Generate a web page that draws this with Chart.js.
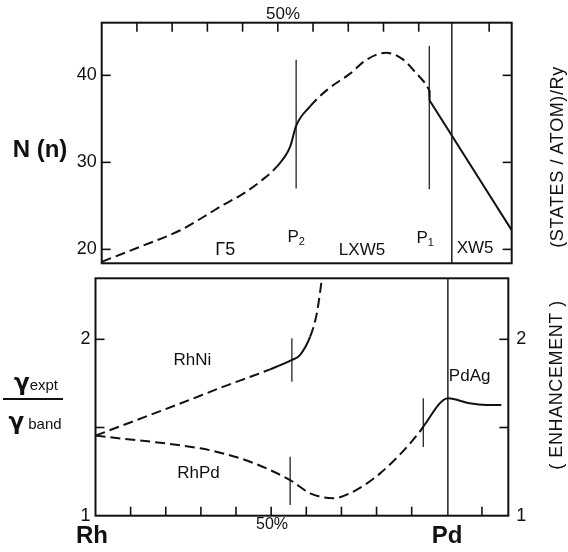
<!DOCTYPE html>
<html lang="en">
<head>
<meta charset="UTF-8">
<title>N(n) and enhancement, Rh-Pd</title>
<script src="https://cdn.jsdelivr.net/npm/chart.js"></script>
<style>
  body { margin: 0; background: #fff; }
  #wrap { position: relative; width: 568px; height: 552px; font-family: "Liberation Sans", Arial, sans-serif; color: #111; }
  canvas { position: absolute; left: 0; top: 0; }
  .t { position: absolute; white-space: nowrap; transform: translate(-50%, -50%); line-height: 1; }
  .rot { transform: translate(-50%, -50%) rotate(-90deg); letter-spacing: 0.6px; }
  .big { font-weight: bold; font-size: 24px; }
  .g { font-weight: bold; font-size: 23px; font-family: "DejaVu Sans", sans-serif; }
</style>
</head>
<body>
<div id="wrap">
  <canvas id="dos" width="568" height="552"></canvas>
  <canvas id="enh" width="568" height="552"></canvas>

  <div class="t" style="left:283px; top:13px; font-size:17px;">50%</div>
  <div class="t big" style="left:40px; top:149px; font-size:24px;">N (n)</div>
  <div class="t rot" style="left:557px; top:157px; font-size:18px;">(STATES / ATOM)/Ry</div>

  <div class="t" style="left:36px; top:382px;"><span class="g">γ</span><span style="font-size:15px;">expt</span></div>
  <div style="position:absolute; left:3px; top:398px; width:60px; height:2px; background:#111;"></div>
  <div class="t" style="left:35px; top:421px;"><span class="g">γ</span><span style="font-size:15px;"> band</span></div>
  <div class="t rot" style="left:556px; top:385px; font-size:18px;">( ENHANCEMENT )</div>

  <div class="t big" style="left:92px; top:535px;">Rh</div>
  <div class="t" style="left:272px; top:524px; font-size:16px;">50%</div>
  <div class="t big" style="left:447px; top:535px;">Pd</div>
</div>

<script>
// composition axis, % Pd (Rh = 0, Pd = 100, beyond is PdAg)
const xTicks = [10, 20, 30, 40, 50, 60, 70, 80, 90, 110];

// upper panel: density of states N(n)
const dosX = [0, 10.9, 22.3, 30.8, 33.6, 40.2, 45, 49.7, 53.5, 55.2, 59.1, 63.9, 70.5, 75.2, 80.8, 85.6, 89.4, 91.8, 93.0];
const dosY = [18.57, 20.3, 22.2, 24.2, 24.9, 26.4, 27.8, 29.5, 31.8, 34.2, 36.4, 38.3, 40.2, 41.8, 42.6, 41.8, 40.2, 39.1, 38.3];
const dosSolid = [[51.5, 58.3]];
// straight solid part after P1
const dosTailX = [93.0, 93.1, 116.4];
const dosTailY = [38.3, 37.1, 22.2];
const dosTicks = [20, 30, 40];
const dosMarkX = [55.2, 93.0];
const dosMarkLo = [27.0, 26.9];
const dosMarkHi = [41.8, 43.4];
const dosEdgeX = 99.4;

// lower panel: gamma expt / gamma band
const rhniX = [0, 29.8, 35.5, 49.7, 55.9, 58.2, 61.1, 63.0, 64.4, 65.0];
const rhniY = [1.454, 1.68, 1.725, 1.83, 1.883, 1.911, 2.015, 2.147, 2.336, 2.42];
const rhniSolid = [[52.6, 61.6]];
const rhpdX = [0, 29.8, 35.5, 44, 55.4, 61.1, 67.7, 72.4, 81, 92.3, 93.3, 100.4, 106.5, 111.3, 115.5];
const rhpdY = [1.454, 1.382, 1.357, 1.306, 1.202, 1.127, 1.099, 1.127, 1.24, 1.476, 1.505, 1.666, 1.637, 1.628, 1.628];
const rhpdSolid = [[51.6, 58.2], [93.3, 120]];
const enhTicks = [1.5, 2];
const enhLabels = [1, 2];
const enhMarkX = [55.9, 55.4, 93.3];
const enhMarkLo = [1.76, 1.06, 1.39];
const enhMarkHi = [2.006, 1.334, 1.666];
const enhEdgeX = 100.3;

const ink = '#111';
const dash = [10, 5];

function pts(xs, ys) { return xs.map((x, i) => ({ x: x, y: ys[i] })); }

function curve(xs, ys, solid) {
  return {
    data: pts(xs, ys),
    borderColor: ink, borderWidth: 2, pointRadius: 0,
    cubicInterpolationMode: 'monotone', borderDash: dash,
    segment: {
      borderDash: c => {
        const m = (c.p0.parsed.x + c.p1.parsed.x) / 2;
        return solid.some(r => m >= r[0] && m <= r[1]) ? [] : dash;
      }
    }
  };
}

function straight(xs, ys) {
  return { data: pts(xs, ys), borderColor: ink, borderWidth: 2, pointRadius: 0, tension: 0 };
}

function marks(xs, lo, hi, w) {
  return xs.map((x, i) => ({
    data: [{ x: x, y: lo[i] }, { x: x, y: hi[i] }],
    borderColor: ink, borderWidth: w || 1.2, pointRadius: 0
  }));
}

// frame, inward ticks, tick labels and notes
const framePlugin = {
  id: 'frame',
  afterDatasetsDraw(chart, args, o) {
    const { ctx, chartArea: a, scales: { x, y } } = chart;
    const seg = (x0, y0, x1, y1) => { ctx.beginPath(); ctx.moveTo(x0, y0); ctx.lineTo(x1, y1); ctx.stroke(); };
    ctx.save();
    ctx.strokeStyle = ink;
    ctx.lineWidth = 2;
    ctx.strokeRect(a.left, a.top, a.right - a.left, a.bottom - a.top);
    ctx.lineWidth = 1.6;
    o.xTicks.forEach(v => {
      const p = x.getPixelForValue(v);
      if (o.xTop) seg(p, a.top, p, a.top + 9); else seg(p, a.bottom, p, a.bottom - 9);
    });
    o.yTicks.forEach(v => {
      const p = y.getPixelForValue(v);
      seg(a.left, p, a.left + 9, p);
      seg(a.right, p, a.right - 9, p);
    });
    ctx.fillStyle = ink;
    ctx.textBaseline = 'middle';
    ctx.font = '18px "Liberation Sans", Arial, sans-serif';
    ctx.textAlign = 'right';
    o.leftLabels.forEach(v => ctx.fillText(String(v), a.left - 5, y.getPixelForValue(v)));
    ctx.textAlign = 'left';
    o.rightLabels.forEach(v => ctx.fillText(String(v), a.right + 8, y.getPixelForValue(v)));
    ctx.textAlign = 'center';
    o.notes.forEach(n => {
      const px = x.getPixelForValue(n.x), py = y.getPixelForValue(n.y);
      ctx.font = (n.size || 17) + 'px "Liberation Sans", Arial, sans-serif';
      if (n.sub) {
        const w = ctx.measureText(n.text).width;
        ctx.fillText(n.text, px - 3, py);
        ctx.font = '11px "Liberation Sans", Arial, sans-serif';
        ctx.fillText(n.sub, px - 3 + w / 2 + 3, py + 5);
      } else {
        ctx.fillText(n.text, px, py);
      }
    });
    ctx.restore();
  }
};

function baseOptions(pad, xMax, yMin, yMax, frame) {
  return {
    responsive: false, animation: false, devicePixelRatio: 1,
    layout: { padding: pad },
    plugins: { legend: { display: false }, tooltip: { enabled: false }, frame: frame },
    scales: {
      x: { type: 'linear', display: false, min: 0, max: xMax },
      y: { type: 'linear', display: false, min: yMin, max: yMax }
    }
  };
}

new Chart(document.getElementById('dos'), {
  type: 'line',
  data: {
    datasets: [curve(dosX, dosY, dosSolid), straight(dosTailX, dosTailY)]
      .concat(marks(dosMarkX, dosMarkLo, dosMarkHi))
      .concat(marks([dosEdgeX], [18.4], [46.05], 1.4))
  },
  options: baseOptions({ left: 101.7, right: 56.3, top: 22.7, bottom: 288.7 }, 116.4, 18.4, 46.05, {
    xTicks: xTicks, xTop: true, yTicks: dosTicks,
    leftLabels: dosTicks, rightLabels: [],
    notes: [
      { text: 'Γ5', x: 35.1, y: 19.9, size: 18 },
      { text: 'P', sub: '2', x: 55.2, y: 21.4 },
      { text: 'LXW5', x: 73.9, y: 19.9 },
      { text: 'P', sub: '1', x: 91.8, y: 21.3 },
      { text: 'XW5', x: 106, y: 20.1 }
    ]
  }),
  plugins: [framePlugin]
});

new Chart(document.getElementById('enh'), {
  type: 'line',
  data: {
    datasets: [curve(rhniX, rhniY, rhniSolid), curve(rhpdX, rhpdY, rhpdSolid)]
      .concat(marks(enhMarkX, enhMarkLo, enhMarkHi))
      .concat(marks([enhEdgeX], [1], [2.346], 1.4))
  },
  options: baseOptions({ left: 95.5, right: 59.7, top: 278.3, bottom: 36.3 }, 117.5, 1, 2.346, {
    xTicks: xTicks, xTop: false, yTicks: enhTicks,
    leftLabels: enhLabels, rightLabels: enhLabels,
    notes: [
      { text: 'RhNi', x: 27.6, y: 1.883 },
      { text: 'RhPd', x: 29.3, y: 1.243 },
      { text: 'PdAg', x: 106.5, y: 1.792 }
    ]
  }),
  plugins: [framePlugin]
});
</script>
</body>
</html>
